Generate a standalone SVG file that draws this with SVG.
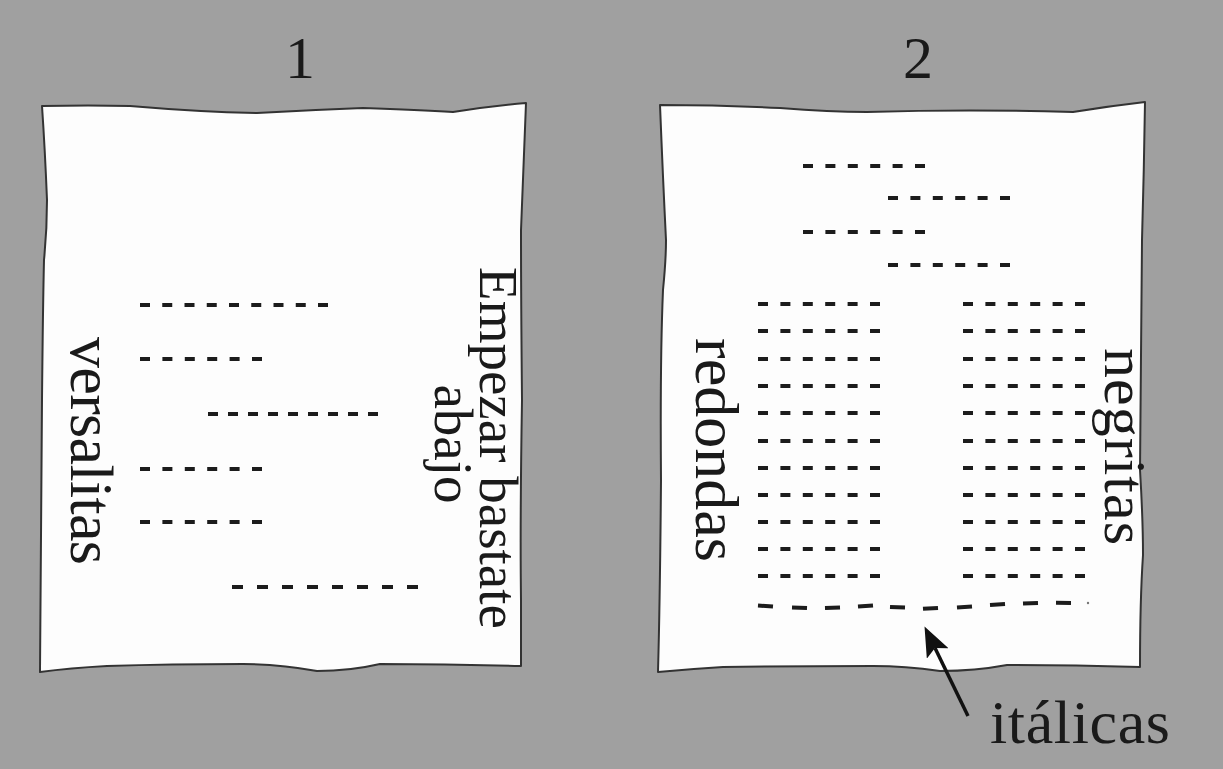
<svg xmlns="http://www.w3.org/2000/svg" width="1223" height="769" viewBox="0 0 1223 769">
<style>
.bg{fill:#a0a0a0}
.sheet{fill:#fdfdfd;stroke:#333;stroke-width:2;stroke-linejoin:round}
.t{font-family:"Liberation Serif","Times New Roman",serif;fill:#1a1a1a}
.d{stroke:#1c1c1c;stroke-width:4;fill:none;stroke-dasharray:10 12.4}
.it{stroke:#1c1c1c;stroke-width:4;fill:none}
.arr{stroke:#111;stroke-width:3.5;fill:none}
</style>
<defs>
<marker id="ah" viewBox="0 0 30 24" refX="6" refY="12" markerWidth="30" markerHeight="24" markerUnits="userSpaceOnUse" orient="auto">
<path d="M0,0 L30,12 L0,24 L6,12 Z" fill="#111"/>
</marker>
</defs>
<rect class="bg" x="0" y="0" width="1223" height="769"/>

<g id="panel1">
<path class="sheet" d="M42,106 Q90,105 130,106 Q200,112 257,113 Q310,110 363,108 Q420,110 453,112 Q490,106 526,103 Q524,160 521,230 Q521,300 522,400 Q520,520 521,600 L521,666 Q450,664 380,664 Q350,671 317,671 Q280,664 243,664 Q170,664 107,666 Q70,668 40,672 Q41,560 42,400 Q43,300 44,260 Q47,230 47,200 Q45,150 42,106 Z"/>
<text class="t" x="300" y="78" font-size="60" text-anchor="middle">1</text>
<text class="t" font-size="62" textLength="228" transform="translate(71,337) rotate(90)">versalitas</text>
<text class="t" font-size="55" text-anchor="middle" transform="translate(480,448) rotate(90)">Empezar bastate</text>
<text class="t" font-size="55" text-anchor="middle" transform="translate(435,444) rotate(90)">abajo</text>
<line class="d" x1="140" y1="305" x2="328" y2="305" style="stroke-dasharray:10 12.25"/>
<line class="d" x1="140" y1="359" x2="262" y2="359"/>
<line class="d" x1="208" y1="414" x2="378" y2="414" style="stroke-dasharray:10 10"/>
<line class="d" x1="140" y1="469" x2="262" y2="469"/>
<line class="d" x1="140" y1="522" x2="262" y2="522"/>
<line class="d" x1="232" y1="587" x2="418" y2="587" style="stroke-dasharray:11 14"/>
</g>

<g id="panel2">
<path class="sheet" d="M660,105 Q720,105 780,108 Q830,112 867,112 Q970,109 1073,112 Q1110,106 1145,102 Q1144,170 1142,240 Q1141,330 1140,470 Q1143,520 1143,555 Q1140,600 1140,667 Q1070,665 1007,665 Q975,671 940,671 Q905,666 873,666 Q790,666 723,667 Q690,669 658,672 Q660,600 661,480 Q660,360 663,290 Q666,260 666,240 Q663,180 660,105 Z"/>
<text class="t" x="918" y="78" font-size="60" text-anchor="middle">2</text>
<text class="t" font-size="62" textLength="224" transform="translate(696,338) rotate(90)">redondas</text>
<text class="t" font-size="60" textLength="197" transform="translate(1105,348) rotate(90)">negritas</text>
<g id="dashes2">
<line class="d" x1="803" y1="166" x2="925" y2="166"/>
<line class="d" x1="888" y1="198" x2="1010" y2="198"/>
<line class="d" x1="803" y1="232" x2="925" y2="232"/>
<line class="d" x1="888" y1="265" x2="1010" y2="265"/>
<line class="d" x1="758" y1="304" x2="880" y2="304"/><line class="d" x1="963" y1="304" x2="1085" y2="304"/>
<line class="d" x1="758" y1="331" x2="880" y2="331"/><line class="d" x1="963" y1="331" x2="1085" y2="331"/>
<line class="d" x1="758" y1="359" x2="880" y2="359"/><line class="d" x1="963" y1="359" x2="1085" y2="359"/>
<line class="d" x1="758" y1="386" x2="880" y2="386"/><line class="d" x1="963" y1="386" x2="1085" y2="386"/>
<line class="d" x1="758" y1="413" x2="880" y2="413"/><line class="d" x1="963" y1="413" x2="1085" y2="413"/>
<line class="d" x1="758" y1="441" x2="880" y2="441"/><line class="d" x1="963" y1="441" x2="1085" y2="441"/>
<line class="d" x1="758" y1="468" x2="880" y2="468"/><line class="d" x1="963" y1="468" x2="1085" y2="468"/>
<line class="d" x1="758" y1="495" x2="880" y2="495"/><line class="d" x1="963" y1="495" x2="1085" y2="495"/>
<line class="d" x1="758" y1="522" x2="880" y2="522"/><line class="d" x1="963" y1="522" x2="1085" y2="522"/>
<line class="d" x1="758" y1="549" x2="880" y2="549"/><line class="d" x1="963" y1="549" x2="1085" y2="549"/>
<line class="d" x1="758" y1="576" x2="880" y2="576"/><line class="d" x1="963" y1="576" x2="1085" y2="576"/>
</g>
<g id="italic-row">
<line class="it" x1="758" y1="605.5" x2="773" y2="606.5"/>
<line class="it" x1="792" y1="607.5" x2="807" y2="608"/>
<line class="it" x1="825" y1="608" x2="840" y2="607.5"/>
<line class="it" x1="858" y1="606.5" x2="873" y2="605.5"/>
<line class="it" x1="890" y1="607" x2="905" y2="607.5"/>
<line class="it" x1="923" y1="608.8" x2="938" y2="608"/>
<line class="it" x1="957" y1="607.5" x2="972" y2="606.5"/>
<line class="it" x1="990" y1="605" x2="1005" y2="604"/>
<line class="it" x1="1023" y1="603.5" x2="1038" y2="603"/>
<line class="it" x1="1056" y1="602.8" x2="1071" y2="603"/>
<circle cx="1088" cy="603" r="1.2" fill="#777"/>
</g>
<text class="t" x="990" y="743" font-size="62" textLength="180">itálicas</text>
</g>

<g id="connectors">
<line class="arr" x1="968" y1="716" x2="935" y2="648" marker-end="url(#ah)"/>
</g>
</svg>
